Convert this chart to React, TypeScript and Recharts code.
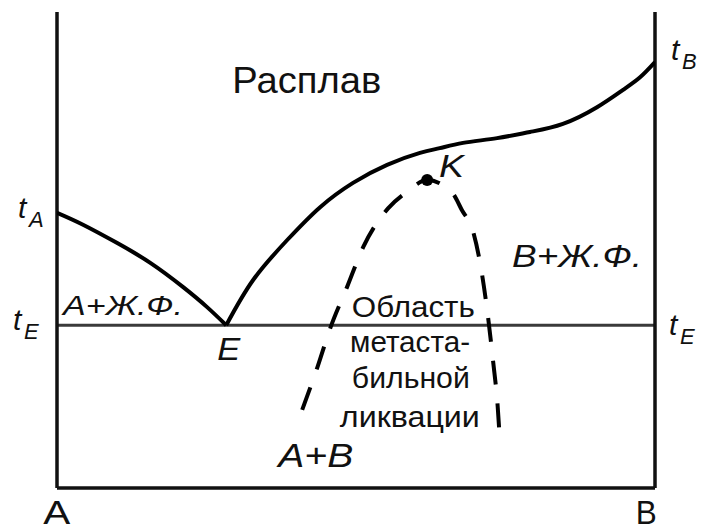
import { LineChart, Line, XAxis, YAxis, ReferenceLine, ReferenceDot } from "recharts"

// composition axis runs 0 (pure A) .. 100 (pure B), temperature in relative units 0..100
const leftLiquidusX = [0, 4.35, 10.0, 15.6, 21.1, 25.1, 28.3]
const leftLiquidusT = [57.8, 55.3, 51.5, 47.3, 42.2, 38.0, 34.2]

const rightLiquidusX = [28.3, 32.8, 38.5, 44.0, 49.5, 55.2, 60.7, 64.0, 67.9, 73.6, 79.1, 84.6, 90.3, 94.6, 97.5, 100]
const rightLiquidusT = [34.2, 43.7, 52.1, 59.0, 64.1, 67.9, 70.4, 71.4, 72.5, 73.5, 74.8, 76.5, 80.0, 83.6, 86.3, 89.5]

// metastable miscibility gap (dashed dome)
const domeX = [41.0, 43.5, 45.7, 48.5, 51.2, 55.4, 58.5, 61.9, 66.1, 67.7, 69.6, 71.1, 72.1, 72.9, 73.7, 74.1]
const domeT = [16.4, 25.2, 33.6, 42.2, 50.6, 58.8, 62.2, 64.7, 62.0, 58.4, 53.8, 44.7, 35.7, 26.9, 17.0, 9.0]

const tA = 57.8
const tB = 89.5
const tE = 34.2
const criticalX = 61.9
const criticalT = 64.7

const zip = (xs: number[], ts: number[]) => xs.map((x, i) => ({ x, t: ts[i] }))

const leftLiquidus = zip(leftLiquidusX, leftLiquidusT)
const rightLiquidus = zip(rightLiquidusX, rightLiquidusT)
const dome = zip(domeX, domeT)

const FONT = "'Liberation Sans', Arial, sans-serif"

type TextCfg = {
    text: string
    sub?: string
    x: number
    y: number
    dx?: number
    dy?: number
    size: number
    italic?: boolean
    len?: number
}

// region and point captions, anchored in data units
const captions: TextCfg[] = [
    { text: "Расплав", x: 29.3, y: 83.0, size: 36, len: 149 },
    { text: "K", x: 63.9, y: 65.3, size: 32, italic: true, len: 25 },
    { text: "B+Ж.Ф.", x: 76.1, y: 46.4, size: 32, italic: true, len: 130 },
    { text: "A+Ж.Ф.", x: 1.0, y: 36.3, size: 28, italic: true, len: 120 },
    { text: "E", x: 26.8, y: 26.9, size: 32, italic: true, len: 23 },
    { text: "A+B", x: 37.0, y: 4.4, size: 33, italic: true, len: 75 },
    { text: "Область", x: 49.3, y: 35.9, size: 30, len: 123 },
    { text: "метаста-", x: 49.0, y: 28.6, size: 30, len: 120 },
    { text: "бильной", x: 49.3, y: 21.0, size: 30, len: 118 },
    { text: "ликвации", x: 47.3, y: 12.8, size: 30, len: 140 },
    { text: "A", x: -2.3, y: -7.5, size: 33, len: 27 },
    { text: "B", x: 96.8, y: -7.5, size: 33, len: 21 },
]

// temperature marks next to the side axes
const tempMarks: TextCfg[] = [
    { text: "t", sub: "A", x: 0, y: tA, dx: -39, dy: 5, size: 30 },
    { text: "t", sub: "E", x: 0, y: tE, dx: -44, dy: 5, size: 30 },
    { text: "t", sub: "E", x: 100, y: tE, dx: 14, dy: 10, size: 30 },
    { text: "t", sub: "B", x: 100, y: tB, dx: 16, dy: -2, size: 30 },
]

const textContent = (c: TextCfg) => (props: any) => {
    const vb = props.viewBox || {}
    const px = (vb.x ?? 0) + (c.dx ?? 0)
    const py = (vb.y ?? 0) + (c.dy ?? 0)
    if (c.sub) {
        return (
            <g fontFamily={FONT} fill="#111" fontStyle="italic">
                <text x={px} y={py} fontSize={c.size}>{c.text}</text>
                <text x={px + 11} y={py + 9} fontSize={22}>{c.sub}</text>
            </g>
        )
    }
    return (
        <text
            x={px}
            y={py}
            fontFamily={FONT}
            fontSize={c.size}
            fontStyle={c.italic ? "italic" : "normal"}
            fill="#111"
            textLength={c.len}
            lengthAdjust="spacingAndGlyphs"
        >
            {c.text}
        </text>
    )
}

export default function App() {
    return (
        <LineChart width={698} height={522} margin={{ top: 4, right: 51, bottom: 42, left: 49 }}>
            <XAxis dataKey="x" type="number" domain={[0, 100]} hide allowDataOverflow />
            <YAxis dataKey="t" type="number" domain={[0, 100]} hide allowDataOverflow />

            <ReferenceLine y={tE} stroke="#3a3a3a" strokeWidth={3} />
            <ReferenceLine x={0} stroke="#111" strokeWidth={3.5} />
            <ReferenceLine x={100} stroke="#111" strokeWidth={3.5} />
            <ReferenceLine y={0} stroke="#111" strokeWidth={3.5} />

            <Line data={leftLiquidus} dataKey="t" type="natural" stroke="#000" strokeWidth={4}
                dot={false} activeDot={false} isAnimationActive={false} />
            <Line data={rightLiquidus} dataKey="t" type="natural" stroke="#000" strokeWidth={4}
                dot={false} activeDot={false} isAnimationActive={false} />
            <Line data={dome} dataKey="t" type="monotone" stroke="#000" strokeWidth={4}
                strokeDasharray="24 19" dot={false} activeDot={false} isAnimationActive={false} />

            <ReferenceDot x={criticalX} y={criticalT} r={6} fill="#000" stroke="none" />

            {[...captions, ...tempMarks].map((c, i) => (
                <ReferenceDot key={i} x={c.x} y={c.y} r={0} fill="none" stroke="none"
                    ifOverflow="visible" label={{ content: textContent(c) }} />
            ))}
        </LineChart>
    )
}
